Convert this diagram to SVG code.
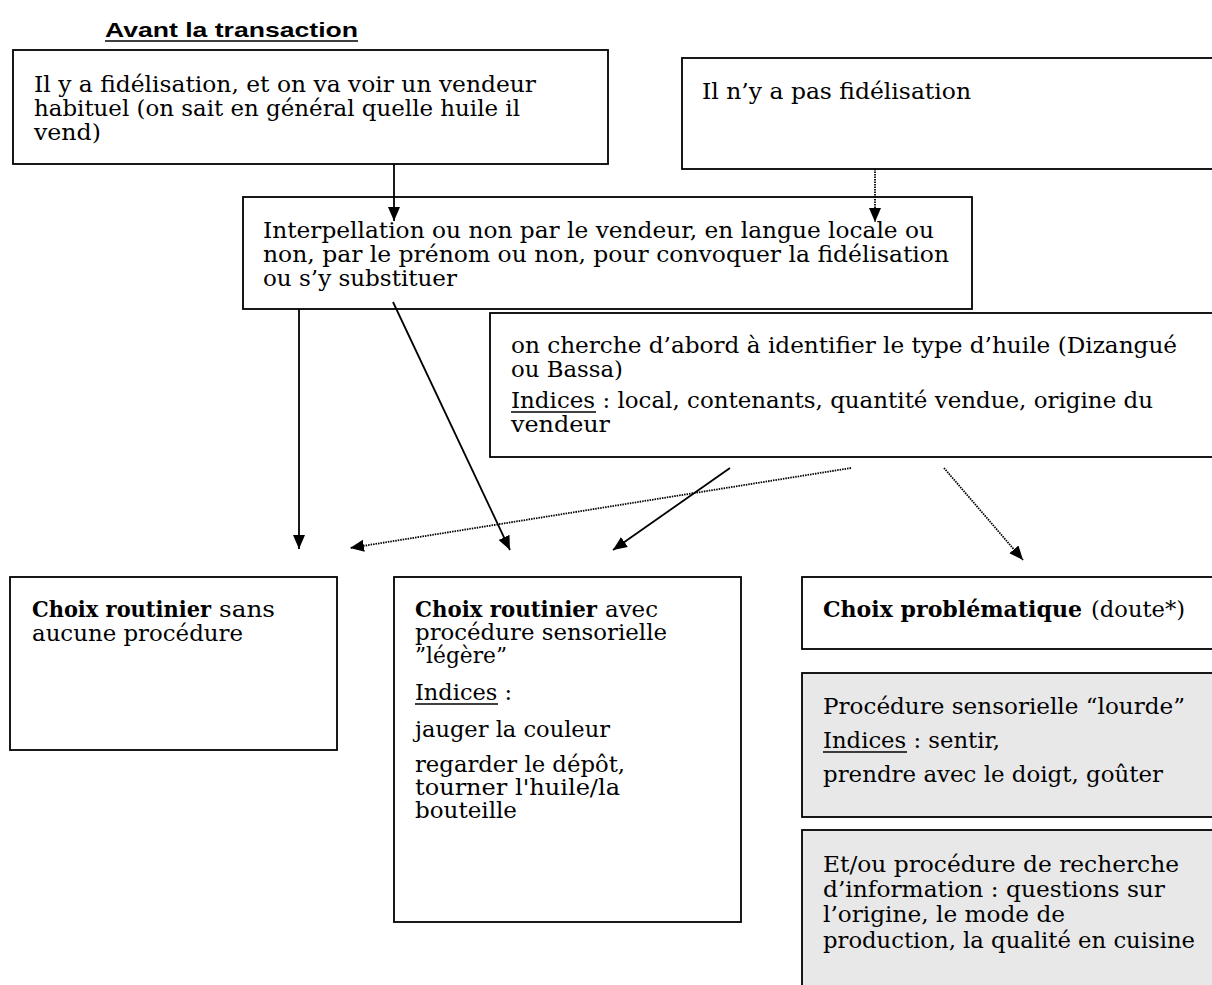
<svg xmlns="http://www.w3.org/2000/svg" width="1212" height="985" viewBox="0 0 1212 985">
<style>
.box{fill:#fff;stroke:#000;stroke-width:1.8}
.grey{fill:#e8e8e8;stroke:#000;stroke-width:1.8}
.t{font-family:"DejaVu Serif","Liberation Serif",serif;font-size:22px;fill:#000}
.b{font-weight:bold}
.title{font-family:"Liberation Sans",Arial,sans-serif;font-size:21px;font-weight:bold;fill:#000}
.ul{stroke:#000;stroke-width:1.4}
.solid{stroke:#000;stroke-width:1.8;fill:none}
.dot{stroke:#000;stroke-width:1.8;fill:none;stroke-dasharray:1.5 1}
</style>
<defs>
<marker id="ah" markerUnits="userSpaceOnUse" markerWidth="15" markerHeight="13" refX="14" refY="6" orient="auto">
<path d="M0,0 L14,6 L0,12 z" fill="#000"/>
</marker>
</defs>

<g id="title">
<text class="title" x="105" y="37" textLength="253" lengthAdjust="spacingAndGlyphs">Avant la transaction</text>
<line class="ul" x1="105" y1="41" x2="358" y2="41"/>
</g>

<g id="n1">
<rect class="box" x="13" y="50" width="595" height="114"/>
<text class="t" x="34" y="92" textLength="502" lengthAdjust="spacingAndGlyphs">Il y a fidélisation, et on va voir un vendeur</text>
<text class="t" x="34" y="116" textLength="486" lengthAdjust="spacingAndGlyphs">habituel (on sait en général quelle huile il</text>
<text class="t" x="34" y="140" textLength="67" lengthAdjust="spacingAndGlyphs">vend)</text>
</g>

<g id="n2">
<rect class="box" x="682" y="58" width="540" height="111"/>
<text class="t" x="702" y="99" textLength="269" lengthAdjust="spacingAndGlyphs">Il n’y a pas fidélisation</text>
</g>

<g id="n3">
<rect class="box" x="243" y="197" width="729" height="112"/>
<text class="t" x="263" y="238" textLength="671" lengthAdjust="spacingAndGlyphs">Interpellation ou non par le vendeur, en langue locale ou</text>
<text class="t" x="263" y="262" textLength="686" lengthAdjust="spacingAndGlyphs">non, par le prénom ou non, pour convoquer la fidélisation</text>
<text class="t" x="263" y="286" textLength="194" lengthAdjust="spacingAndGlyphs">ou s’y substituer</text>
</g>

<g id="n4">
<rect class="box" x="490" y="313" width="732" height="144"/>
<text class="t" x="511" y="353" textLength="666" lengthAdjust="spacingAndGlyphs">on cherche d’abord à identifier le type d’huile (Dizangué</text>
<text class="t" x="511" y="377" textLength="112" lengthAdjust="spacingAndGlyphs">ou Bassa)</text>
<text class="t" x="511" y="408" textLength="642" lengthAdjust="spacingAndGlyphs">Indices : local, contenants, quantité vendue, origine du</text>
<line class="ul" x1="511" y1="412" x2="596" y2="412"/>
<text class="t" x="511" y="432" textLength="99" lengthAdjust="spacingAndGlyphs">vendeur</text>
</g>

<g id="n5">
<rect class="box" x="10" y="577" width="327" height="173"/>
<text class="t b" x="32" y="617" textLength="179" lengthAdjust="spacingAndGlyphs">Choix routinier</text>
<text class="t" x="219" y="617" textLength="56" lengthAdjust="spacingAndGlyphs">sans</text>
<text class="t" x="32" y="641" textLength="211" lengthAdjust="spacingAndGlyphs">aucune procédure</text>
</g>

<g id="n6">
<rect class="box" x="394" y="577" width="347" height="345"/>
<text class="t b" x="415" y="617" textLength="182" lengthAdjust="spacingAndGlyphs">Choix routinier</text>
<text class="t" x="605" y="617" textLength="53" lengthAdjust="spacingAndGlyphs">avec</text>
<text class="t" x="415" y="640" textLength="252" lengthAdjust="spacingAndGlyphs">procédure sensorielle</text>
<text class="t" x="415" y="663" textLength="92" lengthAdjust="spacingAndGlyphs">”légère”</text>
<text class="t" x="415" y="700" textLength="97" lengthAdjust="spacingAndGlyphs">Indices :</text>
<line class="ul" x1="415" y1="704" x2="498" y2="704"/>
<text class="t" x="415" y="737" textLength="195" lengthAdjust="spacingAndGlyphs">jauger la couleur</text>
<text class="t" x="415" y="772" textLength="210" lengthAdjust="spacingAndGlyphs">regarder le dépôt,</text>
<text class="t" x="415" y="795" textLength="205" lengthAdjust="spacingAndGlyphs">tourner l'huile/la</text>
<text class="t" x="415" y="818" textLength="102" lengthAdjust="spacingAndGlyphs">bouteille</text>
</g>

<g id="n7">
<rect class="box" x="802" y="577" width="420" height="72"/>
<text class="t b" x="823" y="617" textLength="259" lengthAdjust="spacingAndGlyphs">Choix problématique</text>
<text class="t" x="1091" y="617" textLength="94" lengthAdjust="spacingAndGlyphs">(doute*)</text>
</g>

<g id="n8">
<rect class="grey" x="802" y="673" width="420" height="144"/>
<text class="t" x="823" y="714" textLength="362" lengthAdjust="spacingAndGlyphs">Procédure sensorielle “lourde”</text>
<text class="t" x="823" y="748" textLength="177" lengthAdjust="spacingAndGlyphs">Indices : sentir,</text>
<line class="ul" x1="823" y1="752" x2="907" y2="752"/>
<text class="t" x="823" y="782" textLength="340" lengthAdjust="spacingAndGlyphs">prendre avec le doigt, goûter</text>
</g>

<g id="n9">
<rect class="grey" x="802" y="830" width="420" height="170"/>
<text class="t" x="823" y="872" textLength="356" lengthAdjust="spacingAndGlyphs">Et/ou procédure de recherche</text>
<text class="t" x="823" y="897" textLength="342" lengthAdjust="spacingAndGlyphs">d’information : questions sur</text>
<text class="t" x="823" y="922" textLength="242" lengthAdjust="spacingAndGlyphs">l’origine, le mode de</text>
<text class="t" x="823" y="948" textLength="372" lengthAdjust="spacingAndGlyphs">production, la qualité en cuisine</text>
</g>

<g id="connectors">
<line class="solid" x1="394" y1="164" x2="394" y2="221" marker-end="url(#ah)"/>
<line class="dot" x1="875" y1="169" x2="875" y2="222" marker-end="url(#ah)"/>
<line class="solid" x1="299" y1="309" x2="299" y2="549" marker-end="url(#ah)"/>
<line class="solid" x1="393" y1="302" x2="510" y2="550" marker-end="url(#ah)"/>
<line class="solid" x1="730" y1="468" x2="613" y2="550" marker-end="url(#ah)"/>
<line class="dot" x1="851" y1="468" x2="350" y2="548" marker-end="url(#ah)"/>
<line class="dot" x1="944" y1="468" x2="1023" y2="560" marker-end="url(#ah)"/>
</g>
</svg>
